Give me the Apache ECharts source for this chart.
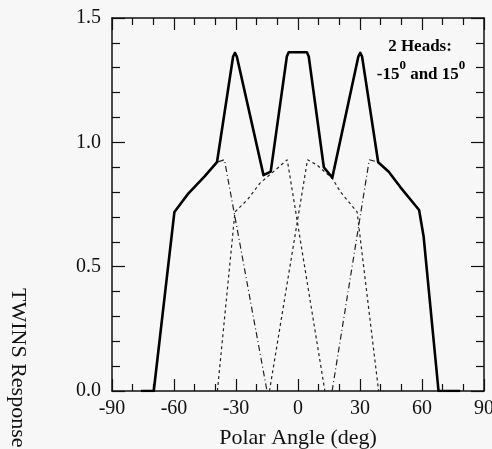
<!DOCTYPE html>
<html><head><meta charset="utf-8">
<script src="https://cdn.jsdelivr.net/npm/echarts@6/dist/echarts.min.js"></script>
<style>html,body{margin:0;padding:0;background:#f7f7f7}#c{width:492px;height:449px}</style>
</head><body><div id="c"></div>
<script>
// ---- data ----
const xTickLabels = ['-90','-60','-30','0','30','60','90'];
const yTickLabels = ['0.0','0.5','1.0','1.5'];

const totalX = [-76,-69.8,-59.8,-53,-45.3,-39.2,-31.4,-30.5,-29.6,-16.7,-13.2,-5.4,-4.5,4.3,5.2,12.5,16.6,29.2,30.1,31.0,38.8,43.9,49.5,55.9,58.6,60.8,68,78.5];
const totalY = [0,0,0.72,0.795,0.862,0.92,1.345,1.36,1.345,0.868,0.882,1.345,1.362,1.362,1.345,0.90,0.858,1.345,1.36,1.345,0.92,0.882,0.82,0.755,0.728,0.62,0,0];

const headAX = [-69.8,-59.8,-53,-45.3,-39.2,-35.6,-15];
const headAY = [0,0.72,0.795,0.862,0.92,0.93,0];
const headBX = [-39,-30.5,-24.4,-18.5,-5.2,13];
const headBY = [0,0.72,0.77,0.835,0.93,0];
const headCX = [-13.8,4.6,9,16.6,20.6,28.6,39];
const headCY = [0,0.93,0.91,0.855,0.80,0.72,0];
const headDX = [16.5,34.5,38.8,43.9,49.5,55.9,58.6,60.8,68];
const headDY = [0,0.93,0.92,0.882,0.82,0.755,0.728,0.62,0];

const zip = (xs, ys) => xs.map((x, i) => [x, ys[i]]);
const serif = '"Liberation Serif", "Times New Roman", serif';

const chart = echarts.init(document.getElementById('c'), null, {renderer: 'canvas'});
const axisBase = {
  axisLine: {show: true, onZero: false, lineStyle: {color: '#111', width: 1.5}},
  splitLine: {show: false},
};
function dashed(data, dash) {
  return {type: 'line', data, symbol: 'none', z: 2, animation: false,
          lineStyle: {color: '#222', width: 1.2, type: dash}};
}
chart.setOption({
  backgroundColor: '#f7f7f7',
  animation: false,
  grid: {left: 112, right: 8, top: 18, bottom: 58, containLabel: false, outerBoundsMode: 'none'},
  xAxis: [
    Object.assign({type: 'value', position: 'bottom', min: -90, max: 90, interval: 30,
      axisTick: {show: true, inside: true, length: 12, lineStyle: {color: '#111', width: 1.2}},
      minorTick: {show: true, splitNumber: 3, length: 7, lineStyle: {color: '#111', width: 1.2}},
      axisLabel: {margin: 8, color: '#111', fontFamily: serif, fontSize: 20,
        formatter: (v) => xTickLabels[Math.round((v + 90) / 30)]},
      name: 'Polar Angle (deg)', nameLocation: 'middle', nameGap: 36,
      nameTextStyle: {color: '#111', fontFamily: serif, fontSize: 22}}, axisBase),
    Object.assign({type: 'value', position: 'top', min: -90, max: 90, interval: 30,
      axisTick: {show: true, inside: true, length: 12, lineStyle: {color: '#111', width: 1.2}},
      minorTick: {show: true, splitNumber: 3, length: 7, lineStyle: {color: '#111', width: 1.2}},
      axisLabel: {show: false}}, axisBase)
  ],
  yAxis: [
    Object.assign({type: 'value', position: 'left', min: 0, max: 1.5, interval: 0.5,
      axisTick: {show: true, inside: true, length: 13, lineStyle: {color: '#111', width: 1.2}},
      minorTick: {show: true, splitNumber: 5, length: 8, lineStyle: {color: '#111', width: 1.2}},
      axisLabel: {margin: 11, color: '#111', fontFamily: serif, fontSize: 20,
        formatter: (v) => yTickLabels[Math.round(v / 0.5)]}}, axisBase),
    Object.assign({type: 'value', position: 'right', min: 0, max: 1.5, interval: 0.5,
      axisTick: {show: true, inside: true, length: 13, lineStyle: {color: '#111', width: 1.2}},
      minorTick: {show: true, splitNumber: 5, length: 8, lineStyle: {color: '#111', width: 1.2}},
      axisLabel: {show: false}}, axisBase)
  ],
  series: [
    dashed(zip(headAX, headAY), [6, 3, 1, 3]),
    dashed(zip(headBX, headBY), [3, 3]),
    dashed(zip(headCX, headCY), [3, 3]),
    dashed(zip(headDX, headDY), [6, 3, 1, 3]),
    {type: 'line', data: zip(totalX, totalY), symbol: 'none', z: 5,
     lineStyle: {color: '#000', width: 2.6, join: 'round'}}
  ],
  graphic: [
    {type: 'text', left: 7, top: 288, rotation: -Math.PI / 2, originX: 0, originY: 0,
     style: {text: 'TWINS Response', fill: '#111', font: '22px ' + serif}},
    {type: 'text', x: 420, y: 47,
     style: {text: '2 Heads:', fill: '#000', font: 'bold 17px ' + serif, textAlign: 'center', textVerticalAlign: 'middle'}},
    {type: 'text', x: 421, y: 71,
     style: {text: '{n|-15}{s|0}{n| and 15}{s|0}', textAlign: 'center', textVerticalAlign: 'middle',
       rich: {n: {fontSize: 17, fontWeight: 'bold', fontFamily: serif, fill: '#000', lineHeight: 24, verticalAlign: 'bottom'},
              s: {fontSize: 13, fontWeight: 'bold', fontFamily: serif, fill: '#000', lineHeight: 24, verticalAlign: 'top'}}}}
  ]
});
</script></body></html>
